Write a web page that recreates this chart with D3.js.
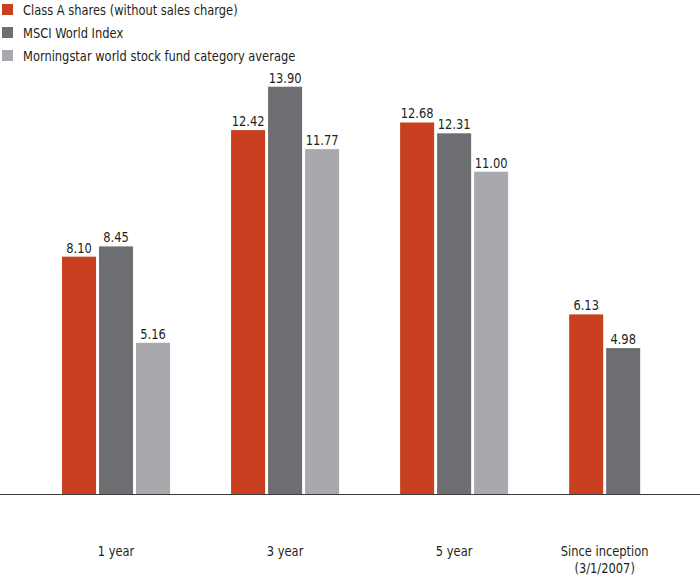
<!DOCTYPE html>
<html><head><meta charset="utf-8">
<script src="https://cdn.jsdelivr.net/npm/d3@7"></script>
<style>
body{margin:0;background:#fff;}
text{font-family:"DejaVu Sans Condensed","DejaVu Sans",sans-serif;font-stretch:condensed;fill:#231f20;}
</style></head>
<body><svg id="c" width="700" height="578"></svg>
<script>
const categories = ["1 year","3 year","5 year","Since inception\n(3/1/2007)"];
const seriesNames = ["Class A shares (without sales charge)","MSCI World Index","Morningstar world stock fund category average"];
const classA = [8.10, 12.42, 12.68, 6.13];
const msci = [8.45, 13.90, 12.31, 4.98];
const morningstar = [5.16, 11.77, 11.00, null];
const colors = ["#c8401f","#6d6e71","#a7a9ac"];

const seriesVals = [classA, msci, morningstar];
const svg = d3.select("#c");
const baseY = 494;
const fs = 14.5;
const sx = 0.88;
const y = d3.scaleLinear().domain([0,15]).range([baseY, baseY - 15*29.3]);
const x = d3.scaleBand().domain(categories).range([31.6, 707.6]).paddingInner(0.361).paddingOuter(0.18);
const xi = d3.scaleBand().domain(seriesNames).range([0, x.bandwidth()]).paddingInner(0.08).paddingOuter(0);

function label(px, py, str, anchor){
  return svg.append("text").attr("transform",`translate(${px},${py}) scale(${sx},1)`)
    .attr("text-anchor",anchor||"start").attr("font-size",fs).text(str);
}

// legend
seriesNames.forEach((s,i)=>{
  svg.append("rect").attr("x",2).attr("y",4+i*23).attr("width",11).attr("height",11).attr("fill",colors[i]);
  label(23, 14.5+i*23, s);
});

// bars
categories.forEach((c,ci)=>{
  const present = [];
  seriesNames.forEach((s,si)=>{
    const v = seriesVals[si][ci];
    if(v==null) return;
    const bx = x(c)+xi(s);
    present.push(bx + xi.bandwidth()/2);
    svg.append("rect").attr("x",bx).attr("y",y(v)).attr("width",xi.bandwidth()).attr("height",y(0)-y(v)).attr("fill",colors[si]);
    label(bx+xi.bandwidth()/2, y(v)-4, v.toFixed(2), "middle");
  });
  const cx = d3.mean(present);
  c.split("\n").forEach((l,li)=>label(cx, 556+li*16.5, l, "middle"));
});

// baseline axis
svg.append("line").attr("x1",0).attr("x2",700).attr("y1",baseY+0.5).attr("y2",baseY+0.5).attr("stroke","#3a3a3a").attr("stroke-width",1.2);
</script></body></html>
